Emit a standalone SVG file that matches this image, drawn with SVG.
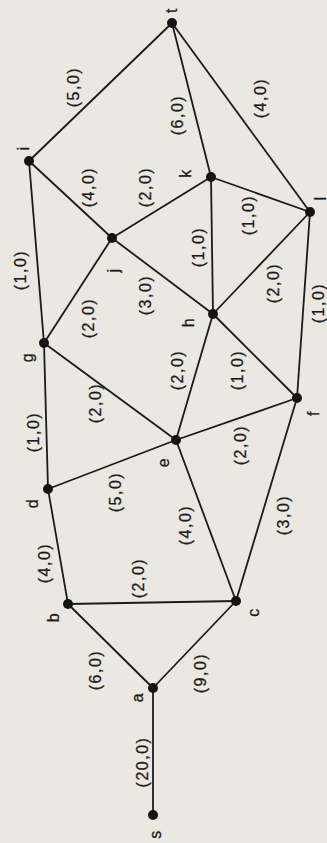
<svg xmlns="http://www.w3.org/2000/svg" width="327" height="843" viewBox="0 0 327 843">
<style>
.e{stroke:#1b1b1b;stroke-width:1.8;fill:none}
.n{fill:#141414}
text{font-family:"Liberation Sans",Arial,sans-serif;font-size:16px;fill:#1b1b1b;text-anchor:middle;dominant-baseline:central;letter-spacing:1.5px;stroke:#1b1b1b;stroke-width:0.3}
</style>
<rect width="327" height="843" fill="#ebe8e1"/>
<g id="connectors">
<line class="e" x1="153" y1="815" x2="153" y2="688"/>
<line class="e" x1="153" y1="688" x2="68" y2="604"/>
<line class="e" x1="153" y1="688" x2="236" y2="601"/>
<line class="e" x1="68" y1="604" x2="236" y2="601"/>
<line class="e" x1="68" y1="604" x2="48" y2="489"/>
<line class="e" x1="236" y1="601" x2="176" y2="440"/>
<line class="e" x1="236" y1="601" x2="297" y2="398"/>
<line class="e" x1="48" y1="489" x2="176" y2="440"/>
<line class="e" x1="48" y1="489" x2="44" y2="343"/>
<line class="e" x1="176" y1="440" x2="44" y2="343"/>
<line class="e" x1="176" y1="440" x2="297" y2="398"/>
<line class="e" x1="176" y1="440" x2="213" y2="314"/>
<line class="e" x1="297" y1="398" x2="213" y2="314"/>
<line class="e" x1="297" y1="398" x2="310" y2="212"/>
<line class="e" x1="44" y1="343" x2="112" y2="238"/>
<line class="e" x1="44" y1="343" x2="29" y2="161"/>
<line class="e" x1="112" y1="238" x2="213" y2="314"/>
<line class="e" x1="112" y1="238" x2="29" y2="161"/>
<line class="e" x1="112" y1="238" x2="211" y2="177"/>
<line class="e" x1="211" y1="177" x2="213" y2="314"/>
<line class="e" x1="213" y1="314" x2="310" y2="212"/>
<line class="e" x1="211" y1="177" x2="310" y2="212"/>
<line class="e" x1="211" y1="177" x2="172" y2="23"/>
<line class="e" x1="29" y1="161" x2="172" y2="23"/>
<line class="e" x1="310" y1="212" x2="172" y2="23"/>
<text transform="translate(142,762) rotate(-90)">(20,0)</text>
<text transform="translate(95,670) rotate(-90)">(6,0)</text>
<text transform="translate(200,673) rotate(-90)">(9,0)</text>
<text transform="translate(138,578) rotate(-90)">(2,0)</text>
<text transform="translate(44,563) rotate(-90)">(4,0)</text>
<text transform="translate(185,525) rotate(-90)">(4,0)</text>
<text transform="translate(283,515) rotate(-90)">(3,0)</text>
<text transform="translate(115,492) rotate(-90)">(5,0)</text>
<text transform="translate(33,432) rotate(-90)">(1,0)</text>
<text transform="translate(95,403) rotate(-90)">(2,0)</text>
<text transform="translate(240,445) rotate(-90)">(2,0)</text>
<text transform="translate(177,370) rotate(-90)">(2,0)</text>
<text transform="translate(237,370) rotate(-90)">(1,0)</text>
<text transform="translate(318,303) rotate(-90)">(1,0)</text>
<text transform="translate(88,318) rotate(-90)">(2,0)</text>
<text transform="translate(20,270) rotate(-90)">(1,0)</text>
<text transform="translate(145,295) rotate(-90)">(3,0)</text>
<text transform="translate(88,187) rotate(-90)">(4,0)</text>
<text transform="translate(145,187) rotate(-90)">(2,0)</text>
<text transform="translate(198,247) rotate(-90)">(1,0)</text>
<text transform="translate(273,283) rotate(-90)">(2,0)</text>
<text transform="translate(248,215) rotate(-90)">(1,0)</text>
<text transform="translate(177,115) rotate(-90)">(6,0)</text>
<text transform="translate(73,87) rotate(-90)">(5,0)</text>
<text transform="translate(260,98) rotate(-90)">(4,0)</text>
</g>
<g id="s"><circle class="n" cx="153" cy="815" r="5"/><text transform="translate(155,834) rotate(-90)">s</text></g>
<g id="a"><circle class="n" cx="153" cy="688" r="5"/><text transform="translate(137,697) rotate(-90)">a</text></g>
<g id="b"><circle class="n" cx="68" cy="604" r="5"/><text transform="translate(53,617) rotate(-90)">b</text></g>
<g id="c"><circle class="n" cx="236" cy="601" r="5"/><text transform="translate(253,612) rotate(-90)">c</text></g>
<g id="d"><circle class="n" cx="48" cy="489" r="5"/><text transform="translate(32,503) rotate(-90)">d</text></g>
<g id="e"><circle class="n" cx="176" cy="440" r="5"/><text transform="translate(163,462) rotate(-90)">e</text></g>
<g id="f"><circle class="n" cx="297" cy="398" r="5"/><text transform="translate(313,413) rotate(-90)">f</text></g>
<g id="g"><circle class="n" cx="44" cy="343" r="5"/><text transform="translate(27,357) rotate(-90)">g</text></g>
<g id="h"><circle class="n" cx="213" cy="314" r="5"/><text transform="translate(188,322) rotate(-90)">h</text></g>
<g id="j"><circle class="n" cx="112" cy="238" r="5"/><text transform="translate(113,270) rotate(-90)">j</text></g>
<g id="i"><circle class="n" cx="29" cy="161" r="5"/><text transform="translate(23,148) rotate(-90)">i</text></g>
<g id="k"><circle class="n" cx="211" cy="177" r="5"/><text transform="translate(185,173) rotate(-90)">k</text></g>
<g id="l"><circle class="n" cx="310" cy="212" r="5"/><text transform="translate(320,198) rotate(-90)">l</text></g>
<g id="t"><circle class="n" cx="172" cy="23" r="5"/><text transform="translate(171,10) rotate(-90)">t</text></g>
</svg>
